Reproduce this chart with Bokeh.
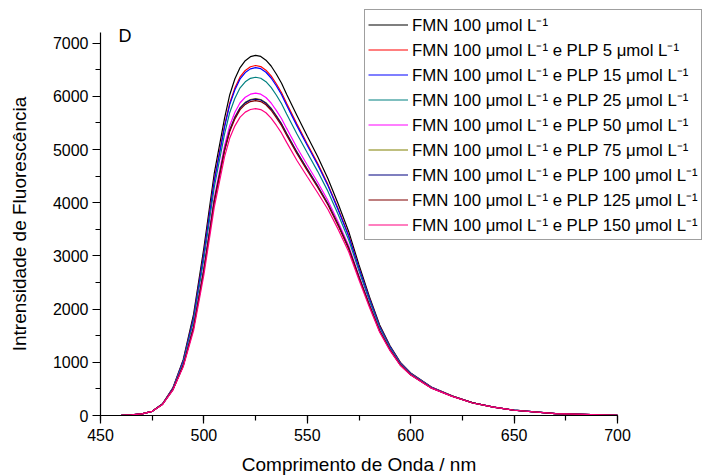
import math
from bokeh.plotting import figure
from bokeh.models import Range1d, SingleIntervalTicker, Legend, LegendItem, Label
from bokeh.embed import file_html
from bokeh.resources import INLINE

wavelength = [450, 460, 465, 470, 475, 480, 485, 490, 495, 500, 505, 510, 512.5, 515, 517.5, 520,
              522.5, 525, 527.5, 530, 532.5, 535, 537.5, 540, 545, 550, 555, 560, 565, 570, 575,
              580, 585, 590, 595, 600, 610, 620, 630, 640, 650, 670, 700]

fmn = [0, 5, 12, 30, 80, 220, 520, 1050, 1900, 3150, 4550, 5590, 6030, 6330, 6540, 6670,
       6745, 6770, 6750, 6680, 6570, 6420, 6250, 6040, 5640, 5250, 4870, 4450, 3970, 3460, 2830,
       2240, 1700, 1310, 1000, 800, 535, 370, 240, 160, 100, 35, 5]
plp5 = [0, 5, 12, 30, 80, 218, 512, 1024, 1842, 3054, 4429, 5455, 5877, 6159, 6365, 6486,
        6556, 6580, 6560, 6492, 6384, 6237, 6072, 5868, 5479, 5105, 4740, 4340, 3880, 3388, 2776,
        2202, 1674, 1293, 989, 792, 531, 368, 239, 160, 100, 35, 5]
plp15 = [0, 5, 12, 30, 79, 217, 510, 1019, 1830, 3034, 4403, 5425, 5844, 6124, 6328, 6447,
         6516, 6540, 6520, 6453, 6345, 6199, 6034, 5832, 5445, 5075, 4713, 4317, 3860, 3372, 2765,
         2194, 1669, 1289, 986, 791, 530, 367, 239, 160, 100, 35, 5]
plp25 = [0, 5, 12, 30, 79, 215, 503, 994, 1775, 2943, 4289, 5295, 5697, 5965, 6160, 6273,
         6338, 6359, 6340, 6275, 6169, 6025, 5865, 5669, 5293, 4938, 4590, 4213, 3775, 3304, 2714,
         2157, 1644, 1272, 975, 784, 526, 365, 238, 159, 100, 35, 5]
plp50 = [0, 5, 12, 30, 78, 212, 490, 953, 1684, 2792, 4098, 5075, 5452, 5701, 5880, 5983,
         6040, 6059, 6041, 5978, 5875, 5736, 5584, 5397, 5039, 4710, 4386, 4039, 3632, 3190, 2629,
         2097, 1603, 1245, 957, 772, 520, 362, 237, 159, 99, 35, 5]
plp75 = [0, 5, 12, 30, 78, 211, 486, 939, 1654, 2742, 4034, 5002, 5370, 5613, 5787, 5887,
         5941, 5958, 5941, 5879, 5777, 5640, 5490, 5306, 4955, 4634, 4318, 3981, 3584, 3152, 2601,
         2077, 1590, 1236, 951, 768, 518, 361, 236, 159, 99, 35, 5]
plp100 = [0, 5, 12, 30, 78, 211, 486, 938, 1651, 2737, 4028, 4995, 5362, 5604, 5778, 5877,
          5931, 5948, 5931, 5869, 5767, 5630, 5481, 5297, 4946, 4626, 4311, 3976, 3580, 3148, 2598,
          2075, 1588, 1235, 951, 767, 517, 361, 236, 159, 99, 35, 5]
plp125 = [0, 5, 12, 30, 78, 211, 485, 934, 1642, 2722, 4009, 4973, 5338, 5577, 5750, 5848,
          5902, 5918, 5901, 5840, 5738, 5601, 5453, 5270, 4921, 4603, 4290, 3958, 3565, 3136, 2589,
          2069, 1584, 1232, 949, 766, 517, 361, 236, 159, 99, 35, 5]
plp150 = [0, 5, 12, 30, 78, 209, 478, 914, 1596, 2646, 3913, 4865, 5215, 5445, 5610, 5703,
          5753, 5768, 5751, 5691, 5591, 5457, 5312, 5134, 4794, 4489, 4188, 3872, 3494, 3079, 2547,
          2038, 1564, 1218, 940, 760, 514, 359, 235, 158, 99, 35, 5]

series = [fmn, plp5, plp15, plp25, plp50, plp75, plp100, plp125, plp150]
labels = [
    "FMN 100 μmol L⁻¹",
    "FMN 100 μmol L⁻¹ e PLP 5 μmol L⁻¹",
    "FMN 100 μmol L⁻¹ e PLP 15 μmol L⁻¹",
    "FMN 100 μmol L⁻¹ e PLP 25 μmol L⁻¹",
    "FMN 100 μmol L⁻¹ e PLP 50 μmol L⁻¹",
    "FMN 100 μmol L⁻¹ e PLP 75 μmol L⁻¹",
    "FMN 100 μmol L⁻¹ e PLP 100 μmol L⁻¹",
    "FMN 100 μmol L⁻¹ e PLP 125 μmol L⁻¹",
    "FMN 100 μmol L⁻¹ e PLP 150 μmol L⁻¹",
]
colors = ["#000000", "#FF0000", "#0000FF", "#008080", "#FF00FF",
          "#808000", "#000080", "#800000", "#FF0080"]

x_ticks_range = (450, 700)
y_ticks_range = (0, 7200)

FONT = "Liberation Sans"
W, H = 707, 475
# axis area in canvas pixels
AX_L, AX_R, AX_T, AX_B = 100, 617, 32, 415
sx = (AX_R - AX_L) / (x_ticks_range[1] - x_ticks_range[0])
sy = (AX_B - AX_T) / (y_ticks_range[1] - y_ticks_range[0])
x_range = Range1d(x_ticks_range[0] - AX_L / sx, x_ticks_range[1] + (W - AX_R) / sx)
y_range = Range1d(y_ticks_range[0] - (H - AX_B) / sy, y_ticks_range[1] + AX_T / sy)

p = figure(width=W, height=H, output_backend="svg", toolbar_location=None,
           x_range=x_range, y_range=y_range, min_border=0)
p.outline_line_color = None
p.xgrid.visible = False
p.ygrid.visible = False
p.background_fill_color = "white"
p.border_fill_color = "white"

renderers = []
for ys, c in zip(series, colors):
    r = p.line(wavelength, ys, line_color=c, line_width=1.2)
    renderers.append(r)

xa, ya = p.xaxis[0], p.yaxis[0]
xa.fixed_location = y_ticks_range[0]
xa.bounds = x_ticks_range
ya.fixed_location = x_ticks_range[0]
ya.bounds = y_ticks_range
for ax in (xa, ya):
    ax.axis_line_color = "black"
    ax.axis_line_width = 1.2
    ax.major_tick_line_color = "black"
    ax.minor_tick_line_color = "black"
    ax.major_tick_line_width = 1.2
    ax.minor_tick_line_width = 1.2
    ax.major_tick_in = 0
    ax.major_tick_out = 8
    ax.minor_tick_in = 0
    ax.minor_tick_out = 5
    ax.major_label_text_font = FONT
    ax.major_label_text_font_size = "16px"
    ax.major_label_text_color = "black"
xa.ticker = SingleIntervalTicker(interval=50, num_minor_ticks=2)
ya.ticker = SingleIntervalTicker(interval=1000, num_minor_ticks=2)
xa.major_label_standoff = 5
ya.major_label_standoff = 4

p.add_layout(Label(x=(AX_L + AX_R) / 2, y=H - 464, x_units="screen", y_units="screen",
                   text="Comprimento de Onda / nm", text_font=FONT, text_font_size="19px",
                   text_align="center", text_baseline="middle", text_color="black"))
p.add_layout(Label(x=19, y=H - (AX_T + AX_B) / 2, x_units="screen", y_units="screen",
                   angle=math.pi / 2, text="Intrensidade de Fluorescência", text_font=FONT,
                   text_font_size="19px", text_align="center", text_baseline="middle",
                   text_color="black"))
p.add_layout(Label(x=118, y=H - 35, x_units="screen", y_units="screen", text="D",
                   text_font=FONT, text_font_size="18px", text_align="left",
                   text_baseline="alphabetic", text_color="black"))

legend = Legend(items=[LegendItem(label=l, renderers=[r]) for l, r in zip(labels, renderers)],
                location=(364, H - 240))
legend.border_line_color = "#404040"
legend.border_line_width = 1.5
legend.background_fill_color = "white"
legend.background_fill_alpha = 1.0
legend.padding = 3
legend.spacing = 2
legend.margin = 0
legend.glyph_width = 40
legend.glyph_height = 23
legend.label_height = 23
legend.label_standoff = 4
legend.label_text_font = FONT
legend.label_text_font_size = "16.8px"
legend.label_text_color = "black"
p.add_layout(legend)

open("out.html", "w").write(file_html(p, INLINE))
